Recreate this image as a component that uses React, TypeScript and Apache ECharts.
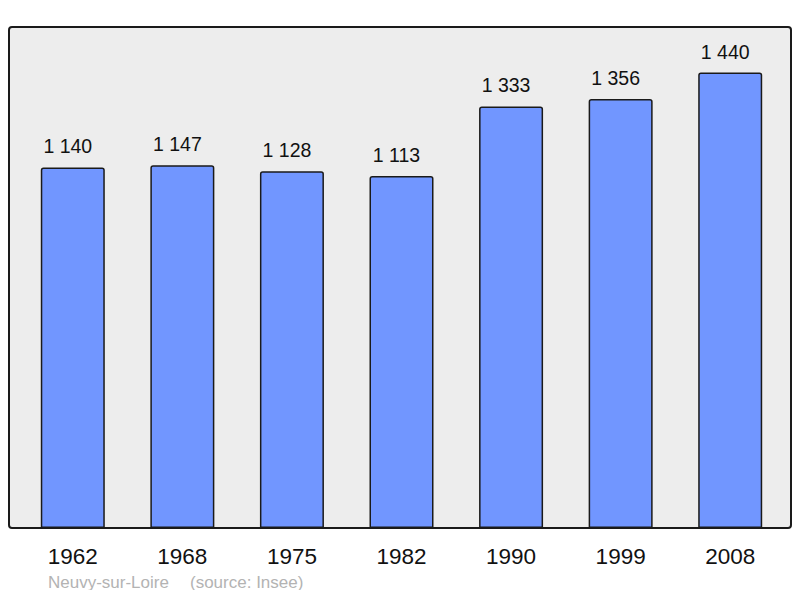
import { useEffect, useRef } from 'react';
import * as echarts from 'echarts';

const years = ['1962', '1968', '1975', '1982', '1990', '1999', '2008'];
const population = [1140, 1147, 1128, 1113, 1333, 1356, 1440];
const town = 'Neuvy-sur-Loire';
const source = '(source: Insee)';

const fmt = (v: number) => {
  const s = String(v);
  return s.length > 3 ? s.slice(0, s.length - 3) + ' ' + s.slice(-3) : s;
};

export default function App() {
  const ref = useRef<HTMLDivElement>(null);

  useEffect(() => {
    if (!ref.current) return;
    const chart = echarts.init(ref.current, null, { renderer: 'svg' });

    chart.setOption({
      animation: false,
      textStyle: { fontFamily: 'Liberation Sans, Arial, sans-serif' },
      grid: { left: 18, right: 15, top: 27, bottom: 70, containLabel: false },
      graphic: [
        {
          type: 'rect',
          z: 0,
          shape: { x: 9, y: 27, width: 782, height: 501, r: 3 },
          style: { fill: '#ededed', stroke: '#1a1a1a', lineWidth: 2 },
        },
        {
          type: 'text',
          left: 48,
          top: 574,
          style: { text: town, fill: '#b3b3b3', fontSize: 17, fontFamily: 'Liberation Sans, Arial, sans-serif' },
        },
        {
          type: 'text',
          left: 190,
          top: 574,
          style: { text: source, fill: '#b3b3b3', fontSize: 17, fontFamily: 'Liberation Sans, Arial, sans-serif' },
        },
      ],
      xAxis: {
        type: 'category',
        data: years,
        axisLine: { show: false },
        axisTick: { show: false },
        axisLabel: { color: '#111', fontSize: 22.5, margin: 17 },
      },
      yAxis: {
        type: 'value',
        min: 0,
        max: 1584,
        show: false,
        splitLine: { show: false },
      },
      series: [
        {
          type: 'bar',
          data: population,
          barWidth: 64,
          z: 2,
          itemStyle: {
            color: '#7196ff',
            borderColor: '#1a1a1a',
            borderWidth: 1.5,
            borderRadius: [2, 2, 0, 0],
          },
          label: {
            show: true,
            position: 'top',
            distance: 11,
            offset: [-5, 0],
            color: '#111',
            fontSize: 19.5,
            formatter: (p: any) => fmt(p.value),
          },
        },
      ],
    });

    return () => chart.dispose();
  }, []);

  return <div ref={ref} style={{ width: 800, height: 598, margin: -8 }} />;
}
